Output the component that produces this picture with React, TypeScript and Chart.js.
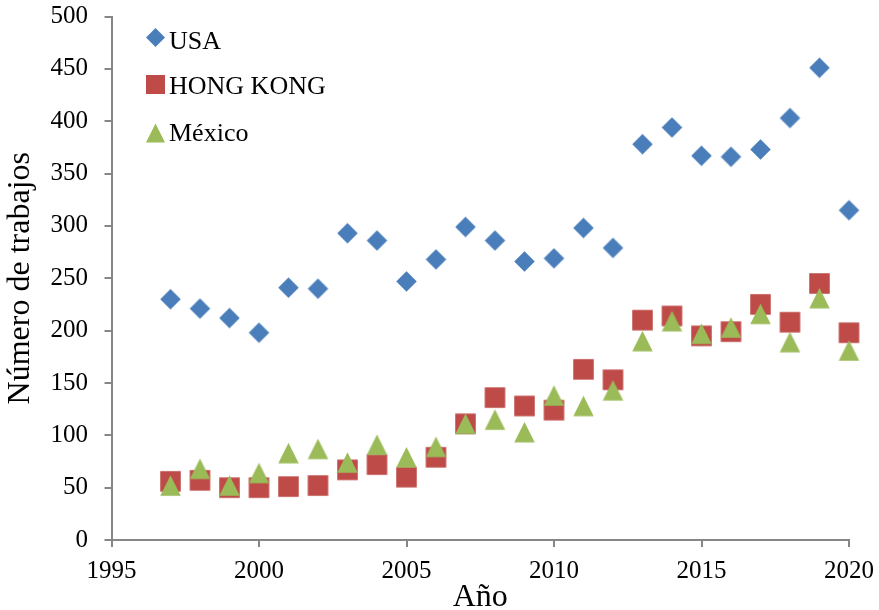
import React, { useEffect, useRef } from 'react';
import { Chart, registerables } from 'chart.js';

Chart.register(...registerables);

const years = [1997, 1998, 1999, 2000, 2001, 2002, 2003, 2004, 2005, 2006, 2007, 2008, 2009, 2010, 2011, 2012, 2013, 2014, 2015, 2016, 2017, 2018, 2019, 2020];
const usa = [230, 221, 212, 198, 241, 240, 293, 286, 247, 268, 299, 286, 266, 269, 298, 279, 378, 394, 367, 366, 373, 403, 451, 315];
const hongKong = [56, 57, 50, 50, 51, 52, 67, 72, 60, 79, 111, 136, 128, 124, 163, 153, 210, 214, 195, 199, 225, 208, 245, 198];
const mexico = [52, 68, 52, 64, 83, 87, 74, 91, 79, 89, 111, 115, 103, 138, 128, 143, 190, 209, 197, 203, 216, 189, 231, 181];
const seriesNames = ['USA', 'HONG KONG', 'México'];
const xTitle = 'Año';
const yTitle = 'Número de trabajos';

const BLUE = '#4A7EBB';
const RED = '#BE4B48';
const GREEN = '#9BBB59';
const AXIS = '#868686';
const FONT = "'Liberation Serif', 'Times New Roman', serif";

type Shape = 'diamond' | 'square' | 'triangle';

function pathShape(ctx: CanvasRenderingContext2D, shape: Shape, cx: number, cy: number, s: number) {
  const h = s / 2;
  ctx.beginPath();
  if (shape === 'diamond') {
    ctx.moveTo(cx, cy - h);
    ctx.lineTo(cx + h, cy);
    ctx.lineTo(cx, cy + h);
    ctx.lineTo(cx - h, cy);
  } else if (shape === 'square') {
    ctx.rect(cx - h, cy - h, s, s);
  } else {
    ctx.moveTo(cx, cy - h);
    ctx.lineTo(cx + h, cy + h);
    ctx.lineTo(cx - h, cy + h);
  }
  ctx.closePath();
}

function makeMarker(shape: Shape, s: number, color: string): HTMLCanvasElement {
  const c = document.createElement('canvas');
  const dim = Math.ceil(s + 2);
  c.width = dim;
  c.height = dim;
  const ctx = c.getContext('2d')!;
  pathShape(ctx, shape, dim / 2, dim / 2, s);
  ctx.fillStyle = color;
  ctx.fill();
  return c;
}

const shapes: Shape[] = ['diamond', 'square', 'triangle'];
const colors = [BLUE, RED, GREEN];

const legendPlugin = {
  id: 'insideLegend',
  afterDraw(chart: any) {
    const { ctx, chartArea } = chart;
    const markerX = chartArea.left + 44;
    const markerY = [37.5, 84.5, 133];
    const textY = [48.5, 94, 140.5];
    ctx.save();
    for (let i = 0; i < 3; i++) {
      pathShape(ctx, shapes[i], markerX, markerY[i], 19);
      ctx.fillStyle = colors[i];
      ctx.fill();
      ctx.fillStyle = '#000';
      ctx.font = `26px ${FONT}`;
      ctx.textBaseline = 'alphabetic';
      ctx.textAlign = 'left';
      ctx.fillText(seriesNames[i], chartArea.left + 57.5, textY[i]);
    }
    ctx.restore();
  },
};

export default function App() {
  const ref = useRef<HTMLCanvasElement | null>(null);
  useEffect(() => {
    if (!ref.current) return;
    const mk = (vals: number[]) => years.map((y, i) => ({ x: y, y: vals[i] }));
    const chart = new Chart(ref.current, {
      type: 'scatter',
      data: {
        datasets: [
          { label: seriesNames[0], data: mk(usa), pointStyle: makeMarker('diamond', 20.5, BLUE), order: 2, clip: false },
          { label: seriesNames[1], data: mk(hongKong), pointStyle: makeMarker('square', 20.5, RED), order: 1, clip: false },
          { label: seriesNames[2], data: mk(mexico), pointStyle: makeMarker('triangle', 20.5, GREEN), order: 0, clip: false },
        ],
      },
      options: {
        animation: false,
        responsive: false,
        maintainAspectRatio: false,
        layout: { padding: { left: 0, top: 16.5, right: 30, bottom: 0 } },
        plugins: { legend: { display: false }, tooltip: { enabled: false } },
        scales: {
          x: {
            type: 'linear',
            min: 1995,
            max: 2020,
            afterFit: (s: any) => { s.height = 70; s.paddingLeft = 0; s.paddingRight = 0; },
            ticks: { stepSize: 5, color: '#000', font: { family: FONT, size: 25 }, padding: 9, callback: (v: any) => String(v), maxRotation: 0 },
            grid: { drawOnChartArea: false, drawTicks: true, tickLength: 7, color: AXIS, lineWidth: 2 },
            border: { display: true, color: AXIS, width: 2 },
            title: { display: true, text: xTitle, color: '#000', font: { family: FONT, size: 32, lineHeight: 0.8 }, padding: 0 },
          },
          y: {
            type: 'linear',
            min: 0,
            max: 500,
            afterFit: (s: any) => { s.width = 111.5; s.paddingTop = 0; s.paddingBottom = 0; },
            ticks: { stepSize: 50, color: '#000', font: { family: FONT, size: 25 }, padding: 16.5 },
            grid: { drawOnChartArea: false, drawTicks: true, tickLength: 7, color: AXIS, lineWidth: 2 },
            border: { display: true, color: AXIS, width: 2 },
            title: { display: true, text: yTitle, color: '#000', font: { family: FONT, size: 32, lineHeight: 1 }, padding: { top: 5, bottom: 0 } },
          },
        },
      },
      plugins: [legendPlugin],
    });
    return () => chart.destroy();
  }, []);
  return (
    <div style={{ position: 'fixed', left: 0, top: 0, width: 879, height: 610, background: '#fff' }}>
      <canvas ref={ref} width={879} height={610} style={{ width: 879, height: 610, display: 'block' }} />
    </div>
  );
}
